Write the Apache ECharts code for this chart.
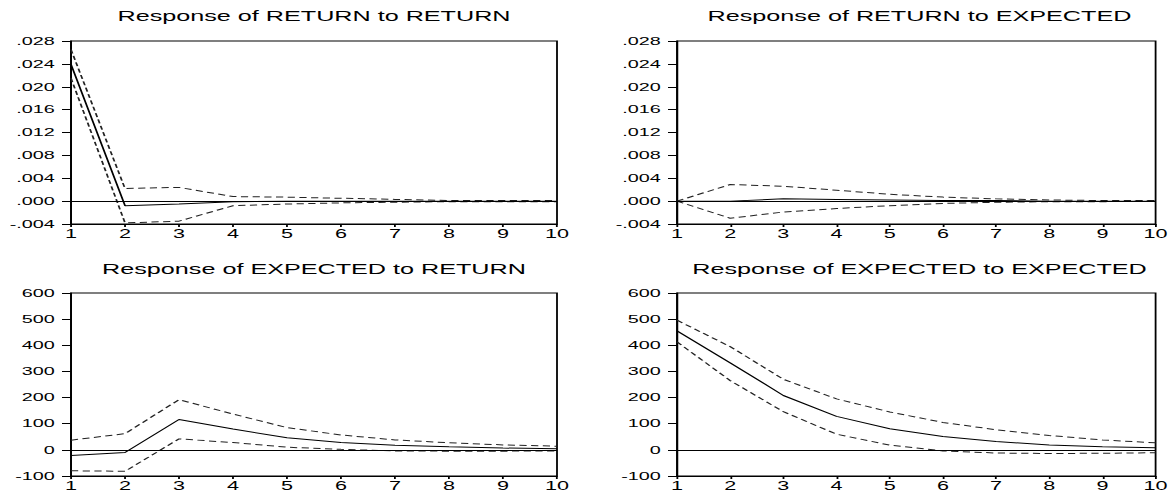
<!DOCTYPE html>
<html>
<head>
<meta charset="utf-8">
<script src="https://cdn.jsdelivr.net/npm/echarts@6/dist/echarts.min.js"></script>
<style>
  html, body { margin: 0; padding: 0; background: #fff; overflow: hidden; }
  #wrap { width: 1173px; height: 493px; overflow: hidden; }
  #chart { width: 652px; height: 493px; transform-origin: 0 0; }
</style>
</head>
<body>
<div id="wrap"><div id="chart"></div></div>
<script>
// ---- data ----
const periods = ['1','2','3','4','5','6','7','8','9','10'];

const titles = [
  'Response of RETURN to RETURN',
  'Response of RETURN to EXPECTED',
  'Response of EXPECTED to RETURN',
  'Response of EXPECTED to EXPECTED'
];

// Response of RETURN to RETURN
const rrMid   = [0.0239, -0.0008, -0.0005, -0.0001, 0.0000, 0.0000, 0.0000, 0.0000, 0.0000, 0.0000];
const rrUpper = [0.0265, 0.0022, 0.0024, 0.0008, 0.0007, 0.0005, 0.0003, 0.0001, 0.0001, 0.0001];
const rrLower = [0.0215, -0.0038, -0.0035, -0.0008, -0.0005, -0.0003, -0.0002, -0.0001, -0.0001, -0.0001];

// Response of RETURN to EXPECTED
const reMid   = [0.0000, 0.0000, 0.0004, 0.0003, 0.0002, 0.0001, 0.0001, 0.0000, 0.0000, 0.0000];
const reUpper = [0.0000, 0.0029, 0.0026, 0.0019, 0.0012, 0.0007, 0.0004, 0.0002, 0.0001, 0.0001];
const reLower = [0.0000, -0.0030, -0.0019, -0.0013, -0.0008, -0.0004, -0.0002, -0.0001, -0.0001, 0.0000];

// Response of EXPECTED to RETURN
const erMid   = [-22, -10, 116, 80, 46, 28, 18, 12, 7, 4];
const erUpper = [37, 62, 192, 137, 85, 57, 38, 27, 19, 14];
const erLower = [-80, -82, 42, 28, 10, 2, -4, -5, -5, -4];

// Response of EXPECTED to EXPECTED
const eeMid   = [455, 333, 208, 128, 81, 51, 32, 19, 12, 8];
const eeUpper = [496, 395, 270, 195, 145, 105, 77, 55, 38, 27];
const eeLower = [413, 265, 146, 60, 18, -4, -12, -14, -13, -11];

const smallTicks = { min: -0.004, max: 0.028, interval: 0.004 };
const bigTicks   = { min: -100, max: 600, interval: 100 };

// ---- layout (reference is horizontally stretched; chart drawn narrow then scaled) ----
const S = 1173 / 652;
document.getElementById('chart').style.transform = 'scaleX(' + S + ')';
const gx = x => x / S;

const FONT = 'Liberation Sans, Arial, sans-serif';
const panels = [
  { left: gx(71),  width: gx(486), top: 41,  ticks: smallTicks, mid: rrMid, up: rrUpper, lo: rrLower },
  { left: gx(677), width: gx(485), top: 41,  ticks: smallTicks, mid: reMid, up: reUpper, lo: reLower },
  { left: gx(71),  width: gx(486), top: 293, ticks: bigTicks,   mid: erMid, up: erUpper, lo: erLower },
  { left: gx(677), width: gx(485), top: 293, ticks: bigTicks,   mid: eeMid, up: eeUpper, lo: eeLower }
];
const PH = 183;

function fmtSmall(v) {
  const s = Number(v).toFixed(3);
  return s.replace(/^(-?)0\./, '$1.');
}

const option = {
  animation: false,
  backgroundColor: '#fff',
  title: panels.map((p, i) => ({
    text: titles[i],
    left: p.left + p.width / 2,
    top: i < 2 ? 9 : 262,
    textAlign: 'center',
    padding: 0,
    textStyle: { fontFamily: FONT, fontSize: 14, fontWeight: 'normal', color: '#000' }
  })),
  grid: panels.map(p => ({
    left: p.left, top: p.top, width: p.width, height: PH,
    show: true, borderColor: '#000', borderWidth: 1, backgroundColor: 'transparent',
    containLabel: false
  })),
  xAxis: panels.map((p, i) => ({
    type: 'category', gridIndex: i, data: periods, boundaryGap: false,
    axisLine: { onZero: false, lineStyle: { color: '#000', width: 1 } },
    axisTick: { show: true, length: 3, inside: false, alignWithLabel: true, lineStyle: { color: '#000' } },
    axisLabel: { interval: 0, margin: 4, fontFamily: FONT, fontSize: 12, color: '#000' },
    splitLine: { show: false }
  })),
  yAxis: panels.map((p, i) => ({
    type: 'value', gridIndex: i,
    min: p.ticks.min, max: p.ticks.max, interval: p.ticks.interval,
    axisLine: { show: true, lineStyle: { color: '#000', width: 1 } },
    axisTick: { show: true, length: 5, lineStyle: { color: '#000' } },
    axisLabel: {
      margin: 9, fontFamily: FONT, fontSize: 11, color: '#000',
      formatter: p.ticks === smallTicks ? fmtSmall : (v => String(v))
    },
    splitLine: { show: false }
  })),
  series: []
};

panels.forEach((p, i) => {
  option.series.push({
    type: 'line', xAxisIndex: i, yAxisIndex: i, data: p.mid,
    symbol: 'none', z: 3,
    lineStyle: { color: '#000', width: 1, type: 'solid' },
    markLine: {
      silent: true, symbol: 'none', animation: false,
      label: { show: false },
      lineStyle: { color: '#000', width: 1, type: 'solid' },
      data: [{ yAxis: 0 }]
    }
  });
  option.series.push({
    type: 'line', xAxisIndex: i, yAxisIndex: i, data: p.up,
    symbol: 'none', z: 2,
    lineStyle: { color: '#222', width: 1, type: [4, 2.5] }
  });
  option.series.push({
    type: 'line', xAxisIndex: i, yAxisIndex: i, data: p.lo,
    symbol: 'none', z: 2,
    lineStyle: { color: '#222', width: 1, type: [4, 2.5] }
  });
});

const chart = echarts.init(document.getElementById('chart'), null, { renderer: 'svg' });
chart.setOption(option);
</script>
</body>
</html>
